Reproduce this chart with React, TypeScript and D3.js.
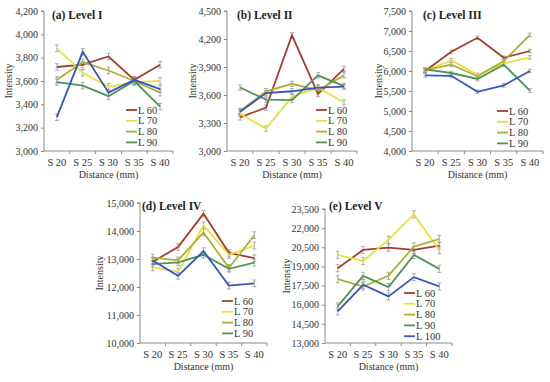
import { useEffect, useRef } from "react";
import * as d3 from "d3";

// categories and series
const categories = ["S 20", "S 25", "S 30", "S 35", "S 40"];
const seriesNames = ["L 60", "L 70", "L 80", "L 90", "L 100"];

// Level I
const level1L60 = [3720, 3740, 3810, 3610, 3740];
const level1L70 = [3880, 3670, 3550, 3590, 3600];
const level1L80 = [3610, 3760, 3690, 3600, 3500];
const level1L90 = [3590, 3560, 3470, 3600, 3380];
const level1L100 = [3290, 3850, 3500, 3610, 3530];

// Level II
const level2L60 = [3360, 3465, 4240, 3610, 3880];
const level2L70 = [3400, 3240, 3580, 3680, 3520];
const level2L80 = [3430, 3640, 3720, 3650, 3810];
const level2L90 = [3680, 3550, 3545, 3810, 3695];
const level2L100 = [3420, 3620, 3640, 3680, 3690];

// Level III
const level3L60 = [6000, 6480, 6830, 6330, 6500];
const level3L70 = [6000, 6270, 5900, 6190, 6340];
const level3L80 = [6020, 6160, 5870, 6250, 6900];
const level3L90 = [6040, 5950, 5800, 6160, 5510];
const level3L100 = [5890, 5880, 5480, 5640, 6000];

// Level IV
const level4L60 = [12900, 13430, 14620, 13220, 13030];
const level4L70 = [12700, 12550, 14200, 13150, 13480];
const level4L80 = [13050, 12950, 13950, 12680, 13850];
const level4L90 = [12820, 12880, 13150, 12650, 12870];
const level4L100 = [12950, 12400, 13280, 12050, 12130];

// Level V
const level5L60 = [18860, 20290, 20480, 20290, 20630];
const level5L70 = [19900, 19430, 21080, 23080, 20290];
const level5L80 = [18000, 17430, 18260, 20560, 21150];
const level5L90 = [15870, 18260, 17380, 19900, 18810];
const level5L100 = [15480, 17560, 16650, 18160, 17430];

// y axis ticks per panel
const ticks1 = [3000, 3200, 3400, 3600, 3800, 4000, 4200];
const ticks2 = [3000, 3300, 3600, 3900, 4200, 4500];
const ticks3 = [4000, 4500, 5000, 5500, 6000, 6500, 7000, 7500];
const ticks4 = [10000, 11000, 12000, 13000, 14000, 15000];
const ticks5 = [13000, 14500, 16000, 17500, 19000, 20500, 22000, 23500];

// typical error bar half-height per panel
const errors = [28, 28, 45, 120, 280];

const titles = ["(a) Level I", "(b) Level II", "(c) Level III", "(d) Level IV", "(e) Level V"];
const legendCounts = [4, 4, 4, 4, 5];

const colors = ["#a0402a", "#e8e040", "#a9b32e", "#4f9457", "#3556c0"];
const font = "'Liberation Serif', 'Times New Roman', serif";

// panel placement
const layout = [
  { x0: 44, x1: 173, top: 11, bottom: 151, titleX: 52, titleY: 19, legX: 126, legY: 110, yLabX: 9 },
  { x0: 227, x1: 357, top: 11, bottom: 151, titleX: 237, titleY: 19, legX: 316, legY: 110, yLabX: 193 },
  { x0: 412, x1: 543, top: 11, bottom: 151, titleX: 423, titleY: 19, legX: 497, legY: 111, yLabX: 379 },
  { x0: 140, x1: 267, top: 203, bottom: 343, titleX: 142, titleY: 210, legX: 222, legY: 301, yLabX: 100 },
  { x0: 325, x1: 452, top: 209, bottom: 343, titleX: 329, titleY: 210, legX: 404, legY: 293, yLabX: 287 },
];

export default function App() {
  const svgRef = useRef<SVGSVGElement>(null);

  useEffect(() => {
    if (!svgRef.current) return;
    const svg = d3.select(svgRef.current);
    svg.selectAll("*").remove();

    const panels = [
      { series: [level1L60, level1L70, level1L80, level1L90, level1L100], ticks: ticks1 },
      { series: [level2L60, level2L70, level2L80, level2L90, level2L100], ticks: ticks2 },
      { series: [level3L60, level3L70, level3L80, level3L90, level3L100], ticks: ticks3 },
      { series: [level4L60, level4L70, level4L80, level4L90, level4L100], ticks: ticks4 },
      { series: [level5L60, level5L70, level5L80, level5L90, level5L100], ticks: ticks5 },
    ];

    panels.forEach((panel, p) => {
      const L = layout[p];
      const g = svg.append("g");

      const x = d3.scaleBand<string>().domain(categories).range([L.x0, L.x1]);
      const y = d3
        .scaleLinear()
        .domain([panel.ticks[0], panel.ticks[panel.ticks.length - 1]])
        .range([L.bottom, L.top]);
      const cx = (c: string) => (x(c) as number) + x.bandwidth() / 2;

      // y axis
      const yAxis = d3
        .axisLeft(y)
        .tickValues(panel.ticks)
        .tickSize(3)
        .tickPadding(3)
        .tickFormat((d) => d3.format(",")(d as number));
      const ya = g.append("g").attr("transform", `translate(${L.x0},0)`).call(yAxis);
      ya.select(".domain").attr("stroke", "#8a8a8a").attr("d", `M-3,${L.top}H0V${L.bottom}`);
      ya.selectAll(".tick line").attr("stroke", "#8a8a8a");
      ya.selectAll(".tick text")
        .attr("font-family", font)
        .attr("font-size", 10)
        .attr("fill", "#333");

      // x axis with ticks on band edges
      const xa = g.append("g").attr("transform", `translate(0,${L.bottom})`);
      xa.append("line")
        .attr("x1", L.x0)
        .attr("x2", L.x1)
        .attr("stroke", "#8a8a8a");
      categories.forEach((c, i) => {
        const edge = (x(c) as number) + x.bandwidth();
        xa.append("line")
          .attr("x1", edge)
          .attr("x2", edge)
          .attr("y1", 0)
          .attr("y2", 3)
          .attr("stroke", "#8a8a8a");
        xa.append("text")
          .attr("x", cx(c))
          .attr("y", 15)
          .attr("text-anchor", "middle")
          .attr("font-family", font)
          .attr("font-size", 10.5)
          .attr("fill", "#333")
          .text(categories[i]);
      });

      // axis titles
      g.append("text")
        .attr("x", (L.x0 + L.x1) / 2)
        .attr("y", L.bottom + 27)
        .attr("text-anchor", "middle")
        .attr("font-family", font)
        .attr("font-size", 10)
        .attr("fill", "#333")
        .text("Distance (mm)");

      g.append("text")
        .attr("transform", `translate(${L.yLabX + 3},${(L.top + L.bottom) / 2}) rotate(-90)`)
        .attr("text-anchor", "middle")
        .attr("font-family", font)
        .attr("font-size", 10)
        .attr("fill", "#333")
        .text("Intensity");

      // error bars
      const err = errors[p];
      panel.series.forEach((vals) => {
        vals.forEach((v, i) => {
          const px = cx(categories[i]);
          g.append("path")
            .attr(
              "d",
              `M${px - 2},${y(v + err)}H${px + 2}M${px},${y(v + err)}V${y(v - err)}M${px - 2},${y(v - err)}H${px + 2}`
            )
            .attr("stroke", "#999")
            .attr("stroke-width", 0.8)
            .attr("fill", "none");
        });
      });

      // lines
      const line = d3
        .line<number>()
        .x((_, i) => cx(categories[i]))
        .y((d) => y(d));

      panel.series.forEach((vals, s) => {
        g.append("path")
          .datum(vals)
          .attr("d", line)
          .attr("fill", "none")
          .attr("stroke", colors[s])
          .attr("stroke-width", 1.8);
      });

      // title
      g.append("text")
        .attr("x", L.titleX)
        .attr("y", L.titleY)
        .attr("font-family", font)
        .attr("font-weight", "bold")
        .attr("font-size", 11.5)
        .attr("fill", "#222")
        .text(titles[p]);

      // legend
      for (let s = 0; s < legendCounts[p]; s++) {
        const ly = L.legY + s * 10.8;
        g.append("line")
          .attr("x1", L.legX)
          .attr("x2", L.legX + 11)
          .attr("y1", ly)
          .attr("y2", ly)
          .attr("stroke", colors[s])
          .attr("stroke-width", 1.8);
        g.append("text")
          .attr("x", L.legX + 12)
          .attr("y", ly + 3.5)
          .attr("font-family", font)
          .attr("font-size", 10.5)
          .attr("fill", "#333")
          .text(seriesNames[s]);
      }
    });
  }, []);

  return (
    <svg
      ref={svgRef}
      width={550}
      height={382}
      style={{ position: "absolute", left: 0, top: 0, background: "#fff" }}
    ></svg>
  );
}
